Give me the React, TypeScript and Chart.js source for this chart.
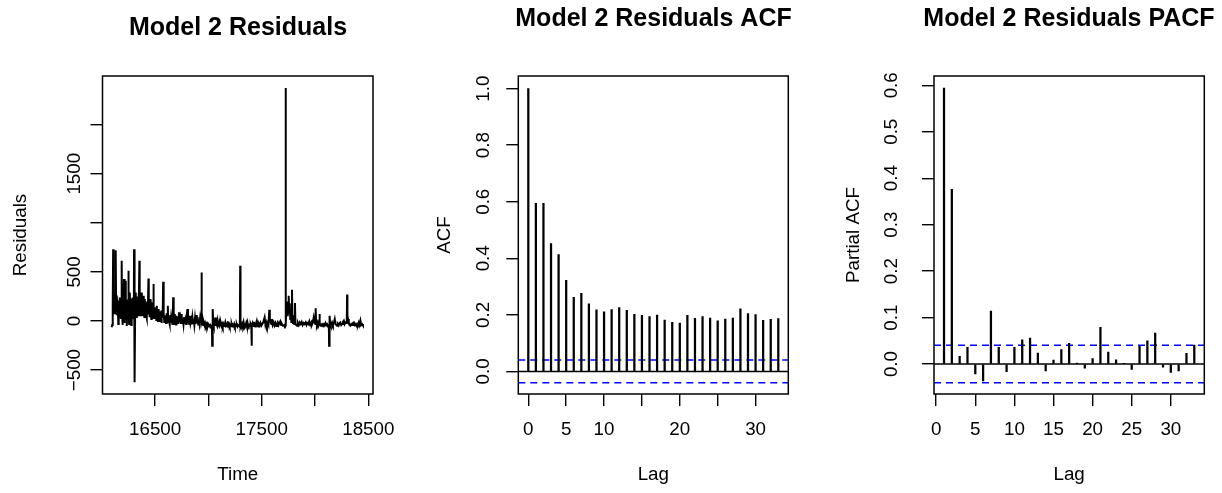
import React, { useEffect, useRef } from "react";
import { Chart, registerables } from "chart.js";

Chart.register(...registerables);

// ---------------- data ----------------
const residualDays = [
  16092, 16097, 16102, 16106, 16108, 16112, 16116, 16120, 16124, 16128,
  16131, 16134, 16138, 16142, 16146, 16150, 16154, 16158, 16162, 16166,
  16170, 16174, 16178, 16182, 16186, 16189, 16193, 16197, 16201, 16205,
  16208, 16211, 16215, 16219, 16223, 16226, 16230, 16234, 16238, 16242,
  16246, 16249, 16252, 16256, 16260, 16264, 16268, 16272, 16276, 16280,
  16284, 16288, 16292, 16296, 16300, 16302, 16305, 16309, 16312, 16316,
  16320, 16324, 16328, 16332, 16336, 16340, 16344, 16348, 16352, 16355,
  16359, 16363, 16367, 16371, 16375, 16379, 16383, 16387, 16391, 16395,
  16399, 16403, 16407, 16411, 16415, 16419, 16423, 16427, 16431, 16437,
  16440, 16444, 16448, 16452, 16456, 16460, 16464, 16468, 16472, 16476,
  16480, 16484, 16487, 16491, 16495, 16499, 16503, 16507, 16511, 16515,
  16519, 16523, 16527, 16531, 16535, 16539, 16543, 16547, 16551, 16555,
  16559, 16563, 16567, 16571, 16575, 16578, 16582, 16586, 16590, 16594,
  16598, 16602, 16606, 16610, 16614, 16619, 16622, 16626, 16630, 16634,
  16638, 16642, 16646, 16650, 16654, 16658, 16662, 16666, 16669, 16672,
  16676, 16680, 16684, 16688, 16692, 16696, 16700, 16706, 16712, 16718,
  16724, 16730, 16736, 16742, 16748, 16754, 16760, 16766, 16772, 16778,
  16784, 16790, 16796, 16803, 16808, 16814, 16820, 16826, 16832, 16838,
  16844, 16850, 16856, 16862, 16868, 16874, 16880, 16886, 16892, 16898,
  16904, 16910, 16916, 16922, 16928, 16932, 16935, 16938, 16944, 16950,
  16956, 16962, 16968, 16974, 16980, 16986, 16992, 16998, 17004, 17010,
  17016, 17022, 17028, 17033, 17035, 17038, 17042, 17045, 17050, 17056,
  17062, 17068, 17074, 17080, 17086, 17092, 17098, 17104, 17110, 17116,
  17122, 17128, 17134, 17140, 17146, 17152, 17158, 17164, 17170, 17176,
  17182, 17188, 17194, 17200, 17206, 17212, 17218, 17224, 17230, 17236,
  17242, 17248, 17254, 17260, 17266, 17272, 17278, 17284, 17290, 17295,
  17298, 17301, 17306, 17312, 17318, 17324, 17330, 17336, 17342, 17348,
  17354, 17360, 17366, 17372, 17378, 17384, 17390, 17396, 17402, 17405,
  17408, 17414, 17420, 17426, 17432, 17438, 17444, 17450, 17456, 17462,
  17468, 17474, 17480, 17488, 17496, 17505, 17515, 17527, 17535, 17542,
  17549, 17556, 17563, 17571, 17576, 17582, 17590, 17596, 17603, 17612,
  17620, 17628, 17636, 17643, 17650, 17658, 17666, 17674, 17682, 17690,
  17698, 17706, 17712, 17718, 17721, 17724, 17727, 17732, 17738, 17744,
  17750, 17753, 17758, 17763, 17768, 17773, 17778, 17784, 17788, 17794,
  17800, 17806, 17812, 17816, 17822, 17831, 17840, 17848, 17857, 17866,
  17875, 17884, 17893, 17902, 17912, 17920, 17928, 17937, 17946, 17955,
  17960, 17966, 17970, 17978, 17988, 17996, 18003, 18006, 18010, 18018,
  18025, 18032, 18038, 18041, 18046, 18052, 18060, 18067, 18074, 18082,
  18090, 18098, 18106, 18113, 18120, 18127, 18130, 18132, 18135, 18138,
  18142, 18148, 18154, 18160, 18168, 18176, 18185, 18192, 18200, 18207,
  18214, 18222, 18230, 18238, 18246, 18254, 18262, 18270, 18278, 18286,
  18294, 18298, 18301, 18304, 18310, 18317, 18324, 18332, 18340, 18348,
  18356, 18364, 18372, 18380, 18388, 18395, 18402, 18410, 18418, 18426,
  18434, 18442, 18450, 18456,
];

const residualValues = [
  -64, -40, 150, 731, 100, 250, 80, 300, 120, 200,
  720, 150, 60, 260, 100, 210, -30, 180, 90, 240,
  40, 160, 20, 230, 613, 120, -40, 200, 80, 300,
  427, 150, -20, 260, 410, 90, 180, -50, 150, 220,
  60, 511, 100, -30, 200, 290, 80, 230, -40, 180,
  120, 240, 20, 150, 90, 731, 120, -623, 60, 291,
  180, 40, 250, 100, 200, 60, 280, 120, 613, 150,
  60, 220, 100, 291, 80, 200, 50, 257, 90, 180,
  40, 223, 120, 200, 60, 160, 30, 190, 70, 433,
  90, 160, 40, 223, 80, 150, 20, 190, 60, 130,
  30, 376, 70, 140, 20, 130, 50, 110, 10, 156,
  40, 105, 0, 122, 30, 90, -10, 100, 20, 80,
  -20, 110, 40, 70, 400, 30, 71, -10, 60, 20,
  54, -20, 80, 10, 50, 156, -10, 40, 0, 20,
  -30, 60, -10, 37, -20, 30, -30, 20, 241, -20,
  30, -30, 71, -20, 20, -35, 54, -20, 40, -30,
  88, -10, 30, -30, 71, -20, 20, -35, 40, -25,
  10, -30, 50, 122, -20, 20, -30, 54, -20, 10,
  -35, 37, -20, 20, -40, 30, -30, 60, -20, 40,
  -35, 10, -30, 30, -20, 20, 494, -10, 20, -40,
  -14, -40, -20, -48, -30, -50, -31, -55, -40, -50,
  -41, -55, -48, -50, -251, -40, 122, -20, -45, -10,
  -40, 37, -30, -45, 3, -40, -50, -14, -45, -20,
  -48, -30, -55, -31, -50, -40, -14, -48, -41, -55,
  -3, -45, -31, -55, -40, -50, -31, -55, -41, -50,
  -30, -55, -41, -50, -35, -55, -41, -48, -45, -50,
  562, -60, -45, -64, -31, -50, -14, -48, -55, -41,
  -20, -50, -14, -45, -55, -41, -50, -31, -48, -251,
  -40, -20, -50, -10, -45, -55, -31, -10, -48, -30,
  -55, -31, -45, -20, -48, -31, -10, 37, -40, -14,
  -48, -20, -40, 115, 20, -10, -31, 20, -40, -14,
  -45, -20, -50, -31, -14, -41, -20, -3, -41, -31,
  -48, -48, -41, -50, -45, 2374, -20, 150, 60, 200,
  100, 257, 80, 180, 20, 120, -10, 318, 40, -20,
  60, -30, 183, -20, -40, -48, -20, -41, -14, -31,
  -10, -41, -20, -31, -14, -40, -20, -31, -3, -45,
  -20, -10, -41, -20, 37, -14, -30, 129, -20, -41,
  -14, -41, -10, 71, -20, -48, -48, -31, -41, -31,
  -45, -20, -41, -31, -48, -45, -50, -251, -40, 54,
  -20, -41, -31, -14, -41, -20, 20, -31, -41, -48,
  -31, -45, -20, -14, -41, -31, -10, 3, -31, -14,
  -20, -10, 271, -20, 20, -20, -41, -48, -31, -41,
  -20, -14, -41, -31, -48, -31, -41, -14, -41, 3,
  -41, -31, -45, -48,
];

const acfLags = [
  0, 1, 2, 3, 4, 5, 6, 7, 8, 9, 10, 11, 12, 13, 14, 15, 16,
  17, 18, 19, 20, 21, 22, 23, 24, 25, 26, 27, 28, 29, 30, 31, 32, 33,
];
const acfValues = [
  1.0, 0.594, 0.594, 0.452, 0.413, 0.322, 0.262, 0.276, 0.239, 0.218,
  0.211, 0.219, 0.226, 0.216, 0.202, 0.198, 0.194, 0.199, 0.182, 0.174,
  0.171, 0.198, 0.188, 0.194, 0.189, 0.179, 0.185, 0.189, 0.221, 0.205,
  0.201, 0.181, 0.184, 0.187,
];

const pacfLags = [
  1, 2, 3, 4, 5, 6, 7, 8, 9, 10, 11, 12, 13, 14, 15, 16,
  17, 18, 19, 20, 21, 22, 23, 24, 25, 26, 27, 28, 29, 30, 31, 32, 33,
];
const pacfValues = [
  0.594, 0.376, 0.0165, 0.036, -0.0215, -0.0366, 0.114, 0.036, -0.0165, 0.036,
  0.052, 0.056, 0.0237, -0.015, 0.0086, 0.031, 0.0444, 0.002, -0.009, 0.0115,
  0.079, 0.026, 0.0093, 0.001, -0.0115, 0.0387, 0.05, 0.0667, -0.0065, -0.018,
  -0.015, 0.023, 0.041,
];

const confidenceBound = 0.0403;

// tick positions and the subset of them that carry a label
const timeTicks = [16500, 17000, 17500, 18000, 18500];
const timeTickLabels = [16500, 17500, 18500];
const residualTicks = [-500, 0, 500, 1000, 1500, 2000];
const residualTickLabels = [-500, 0, 500, 1500];
const lagTicks = [0, 5, 10, 15, 20, 25, 30];
const acfLagTickLabels = [0, 5, 10, 20, 30];
const pacfLagTickLabels = [0, 5, 10, 15, 20, 25, 30];
const acfTicks = [0, 0.2, 0.4, 0.6, 0.8, 1.0];
const pacfTicks = [0, 0.1, 0.2, 0.3, 0.4, 0.5, 0.6];

// ---------------- styling ----------------
const FONT_FAMILY = "'Liberation Sans', Arial, Helvetica, sans-serif";
const AXIS_FONT = { family: FONT_FAMILY, size: 18.8 };
const TITLE_FONT = { family: FONT_FAMILY, size: 25, weight: "bold" as const };
const HEIGHT = 493;

const boxPlugin = {
  id: "rBox",
  afterDatasetsDraw(chart: any) {
    const { ctx, chartArea: a } = chart;
    ctx.save();
    ctx.strokeStyle = "#000";
    ctx.lineWidth = 1.5;
    ctx.strokeRect(a.left, a.top, a.right - a.left, a.bottom - a.top);
    ctx.restore();
  },
};

const minusFmt = (v: number) => (v < 0 ? "\u2212" + Math.abs(v) : String(v));

function panelOptions(p: any) {
  const gridOpts = {
    display: true,
    drawOnChartArea: false,
    drawTicks: true,
    tickLength: 12,
    tickWidth: 1.4,
    tickColor: "#000",
    color: "#000",
    lineWidth: 1.4,
    offset: false,
  };
  return {
    animation: false,
    responsive: false,
    events: [],
    layout: { padding: 0 },
    plugins: {
      legend: { display: false },
      tooltip: { enabled: false },
      title: {
        display: true,
        text: p.title,
        color: "#000",
        font: TITLE_FONT,
        padding: { top: p.titleTop, bottom: p.titleBottom },
      },
    },
    scales: {
      x: {
        type: "linear",
        min: p.xMin,
        max: p.xMax,
        offset: false,
        grid: gridOpts,
        border: { display: false },
        afterBuildTicks: (s: any) => {
          s.ticks = p.xTicks.map((v: number) => ({ value: v }));
        },
        ticks: {
          autoSkip: false,
          minRotation: 0,
          maxRotation: 0,
          padding: 12.7,
          color: "#000",
          font: AXIS_FONT,
          callback: p.xLabel,
        },
        title: {
          display: true,
          text: p.xTitle,
          color: "#000",
          font: AXIS_FONT,
          padding: { top: 0, bottom: 6.7 },
        },
        afterFit: (s: any) => {
          s.height = HEIGHT - p.plotBottom;
          s.paddingLeft = 0;
          s.paddingRight = 0;
        },
      },
      y: {
        type: "linear",
        min: p.yMin,
        max: p.yMax,
        grid: gridOpts,
        border: { display: false },
        afterBuildTicks: (s: any) => {
          s.ticks = p.yTicks.map((v: number) => ({ value: v }));
        },
        ticks: {
          autoSkip: false,
          minRotation: 90,
          maxRotation: 90,
          crossAlign: "center",
          padding: p.yTickPad,
          color: "#000",
          font: AXIS_FONT,
          callback: p.yLabel,
        },
        title: {
          display: true,
          text: p.yTitle,
          color: "#000",
          font: AXIS_FONT,
          padding: { top: p.yTitlePad, bottom: 0 },
        },
        afterFit: (s: any) => {
          s.width = p.yAxisWidth;
          s.paddingTop = 0;
          s.paddingBottom = 0;
        },
      },
      // empty right-hand margin (R's right plot margin)
      margin: {
        type: "linear",
        position: "right",
        display: true,
        grid: { display: false, drawTicks: false },
        border: { display: false },
        ticks: { display: false },
        title: { display: false },
        afterFit: (s: any) => {
          s.width = p.rightPad;
          s.paddingTop = 0;
          s.paddingBottom = 0;
        },
      },
    },
  };
}

// Each canvas is symmetric about its plot box so the centred title sits over the box.
const panels = [
  {
    left: 0, width: 476, yAxisWidth: 102.5, rightPad: 103, plotBottom: 394,
    titleTop: 13, titleBottom: 33, yTitlePad: 9.7, yTickPad: -5.2,
    title: "Model 2 Residuals", xTitle: "Time", yTitle: "Residuals",
    xMin: 16006, xMax: 18544, yMin: -743, yMax: 2495,
    xTicks: timeTicks, yTicks: residualTicks,
    xLabel: (v: number) => (timeTickLabels.includes(v) ? String(v) : ""),
    yLabel: (v: number) => (residualTickLabels.includes(v) ? minusFmt(v) : ""),
  },
  {
    left: 407, width: 493, yAxisWidth: 111.3, rightPad: 111.7, plotBottom: 394,
    titleTop: 3.7, titleBottom: 42.3, yTitlePad: 26.7, yTickPad: 9.9,
    title: "Model 2 Residuals ACF", xTitle: "Lag", yTitle: "ACF",
    xMin: -1.32, xMax: 34.32, yMin: -0.0797, yMax: 1.0445,
    xTicks: lagTicks, yTicks: acfTicks,
    xLabel: (v: number) => (acfLagTickLabels.includes(v) ? String(v) : ""),
    yLabel: (v: number) => Number(v).toFixed(1),
  },
  {
    left: 815, width: 508, yAxisWidth: 119, rightPad: 118.7, plotBottom: 394,
    titleTop: 3.7, titleBottom: 42.3, yTitlePad: 27.2, yTickPad: 16.9,
    title: "Model 2 Residuals PACF", xTitle: "Lag", yTitle: "Partial ACF",
    xMin: -0.28, xMax: 34.28, yMin: -0.0645, yMax: 0.62,
    xTicks: lagTicks, yTicks: pacfTicks,
    xLabel: (v: number) => (pacfLagTickLabels.includes(v) ? String(v) : ""),
    yLabel: (v: number) => Number(v).toFixed(1),
  },
];

function hLine(xMin: number, xMax: number, y: number, color: string, dash: number[]) {
  return {
    type: "line",
    data: [{ x: xMin, y }, { x: xMax, y }],
    borderColor: color,
    borderWidth: 1.5,
    borderDash: dash,
    pointRadius: 0,
    fill: false,
  };
}

function correlogramDatasets(p: any, lags: number[], values: number[]) {
  return [
    {
      type: "bar",
      data: lags.map((l, i) => ({ x: l, y: values[i] })),
      backgroundColor: "#000",
      borderWidth: 0,
      barThickness: 1.6,
    },
    hLine(p.xMin, p.xMax, 0, "#000", []),
    hLine(p.xMin, p.xMax, confidenceBound, "#0000FF", [7, 5]),
    hLine(p.xMin, p.xMax, -confidenceBound, "#0000FF", [7, 5]),
  ];
}

export default function App() {
  const r1 = useRef<HTMLCanvasElement>(null);
  const r2 = useRef<HTMLCanvasElement>(null);
  const r3 = useRef<HTMLCanvasElement>(null);

  useEffect(() => {
    const charts: Chart[] = [];
    charts.push(
      new Chart(r1.current as HTMLCanvasElement, {
        type: "line",
        data: {
          datasets: [
            {
              data: residualDays.map((d, i) => ({ x: d, y: residualValues[i] })),
              borderColor: "#000",
              borderWidth: 2,
              pointRadius: 0,
              tension: 0,
              fill: false,
            },
          ],
        },
        options: panelOptions(panels[0]) as any,
        plugins: [boxPlugin],
      } as any)
    );
    charts.push(
      new Chart(r2.current as HTMLCanvasElement, {
        type: "bar",
        data: { datasets: correlogramDatasets(panels[1], acfLags, acfValues) },
        options: panelOptions(panels[1]) as any,
        plugins: [boxPlugin],
      } as any)
    );
    charts.push(
      new Chart(r3.current as HTMLCanvasElement, {
        type: "bar",
        data: { datasets: correlogramDatasets(panels[2], pacfLags, pacfValues) },
        options: panelOptions(panels[2]) as any,
        plugins: [boxPlugin],
      } as any)
    );
    return () => charts.forEach((c) => c.destroy());
  }, []);

  const refs = [r1, r2, r3];
  return (
    <div
      style={{
        position: "absolute",
        left: 0,
        top: 0,
        width: 1222,
        height: HEIGHT,
        overflow: "hidden",
        background: "#fff",
      }}
    >
      {panels.map((p, i) => (
        <canvas
          key={i}
          ref={refs[i]}
          width={p.width}
          height={HEIGHT}
          style={{ position: "absolute", left: p.left, top: 0, width: p.width, height: HEIGHT }}
        />
      ))}
    </div>
  );
}
